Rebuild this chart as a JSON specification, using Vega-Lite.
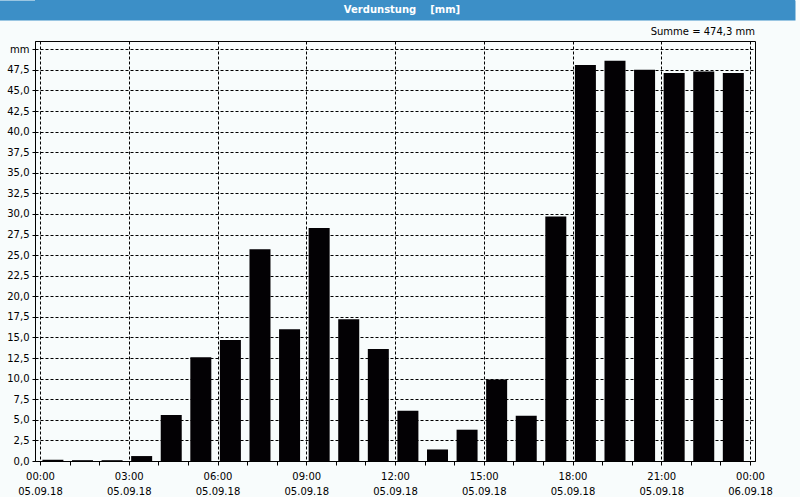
{
  "$schema": "https://vega.github.io/schema/vega-lite/v6.json",
  "padding": 0,
  "background": "#f8fcfc",
  "spacing": 6,
  "bounds": "full",
  "config": {"font": "DejaVu Sans", "view": {"stroke": "#000000"}},
  "vconcat": [
    {
      "width": 760,
      "height": 20,
      "view": {"fill": "#3c8fc7", "stroke": null},
      "data": {"values": [{"label": "Verdunstung\u00a0\u00a0\u00a0\u00a0[mm]"}]},
      "mark": {"type": "text", "color": "#ffffff", "fontWeight": "bold", "fontSize": 10, "dx": 7},
      "encoding": {
        "text": {"field": "label", "type": "nominal"},
        "x": {
          "datum": 0.5,
          "type": "quantitative",
          "scale": {"domain": [0, 1], "range": [-40, 760], "nice": false, "zero": false},
          "axis": {
            "orient": "top",
            "offset": -10,
            "title": null,
            "labels": false,
            "ticks": false,
            "grid": false,
            "domainColor": "#3c8fc7",
            "domainWidth": 20,
            "domainCap": "butt"
          }
        }
      }
    },
    {
      "width": 720,
      "height": 420,
      "title": {"text": "Summe = 474,3 mm", "anchor": "end", "frame": "group", "fontSize": 10, "fontWeight": "normal", "offset": 4, "color": "#000000", "font": "DejaVu Sans"},
      "view": {"fill": "#f8fcfc", "stroke": "#000000", "strokeWidth": 1},
      "data": {"values": [
        {"zeit": "2018-09-05T00:00:00", "mm": 0.15},
        {"zeit": "2018-09-05T01:00:00", "mm": 0.1},
        {"zeit": "2018-09-05T02:00:00", "mm": 0.1},
        {"zeit": "2018-09-05T03:00:00", "mm": 0.6},
        {"zeit": "2018-09-05T04:00:00", "mm": 5.6},
        {"zeit": "2018-09-05T05:00:00", "mm": 12.6},
        {"zeit": "2018-09-05T06:00:00", "mm": 14.7},
        {"zeit": "2018-09-05T07:00:00", "mm": 25.7},
        {"zeit": "2018-09-05T08:00:00", "mm": 16.0},
        {"zeit": "2018-09-05T09:00:00", "mm": 28.3},
        {"zeit": "2018-09-05T10:00:00", "mm": 17.2},
        {"zeit": "2018-09-05T11:00:00", "mm": 13.6},
        {"zeit": "2018-09-05T12:00:00", "mm": 6.1},
        {"zeit": "2018-09-05T13:00:00", "mm": 1.4},
        {"zeit": "2018-09-05T14:00:00", "mm": 3.8},
        {"zeit": "2018-09-05T15:00:00", "mm": 9.9},
        {"zeit": "2018-09-05T16:00:00", "mm": 5.5},
        {"zeit": "2018-09-05T17:00:00", "mm": 29.7},
        {"zeit": "2018-09-05T18:00:00", "mm": 48.1},
        {"zeit": "2018-09-05T19:00:00", "mm": 48.6},
        {"zeit": "2018-09-05T20:00:00", "mm": 47.5},
        {"zeit": "2018-09-05T21:00:00", "mm": 47.1},
        {"zeit": "2018-09-05T22:00:00", "mm": 47.3},
        {"zeit": "2018-09-05T23:00:00", "mm": 47.1}
      ]},
      "mark": {"type": "bar", "color": "#030104", "width": 21, "xOffset": 12.9},
      "encoding": {
        "x": {
          "field": "zeit",
          "type": "temporal",
          "scale": {"domain": [
            {"year": 2018, "month": 9, "date": 5, "hours": 0},
            {"year": 2018, "month": 9, "date": 6, "hours": 0}
          ], "nice": false},
          "axis": {
            "title": null,
            "format": "%H:%M",
            "labelExpr": "hours(datum.value) % 3 == 0 ? [timeFormat(datum.value, '%H:%M'), timeFormat(datum.value, '%d.%m.%y')] : ''",
            "grid": true,
            "gridColor": "#000000",
            "gridDash": [3, 2],
            "gridOpacity": {"condition": {"test": "hours(datum.value) % 3 == 0", "value": 1}, "value": 0},
            "tickColor": "#000000",
            "tickSize": 4,
            "domainColor": "#000000",
            "labelFontSize": 10,
            "labelColor": "#000000",
            "labelLineHeight": 15,
            "labelPadding": 6,
            "labelOverlap": false,
            "labelFlush": false
          }
        },
        "y": {
          "field": "mm",
          "type": "quantitative",
          "scale": {"domain": [0, 51], "nice": false},
          "axis": {
            "title": null,
            "values": [0, 2.5, 5, 7.5, 10, 12.5, 15, 17.5, 20, 22.5, 25, 27.5, 30, 32.5, 35, 37.5, 40, 42.5, 45, 47.5, 50],
            "labelExpr": "datum.value >= 50 ? 'mm' : replace(format(datum.value, '.1f'), '.', ',')",
            "grid": true,
            "gridColor": "#000000",
            "gridDash": [3, 2],
            "tickSize": 3,
            "tickColor": "#000000",
            "domainColor": "#000000",
            "labelFontSize": 10,
            "labelColor": "#000000",
            "labelPadding": 3,
            "minExtent": 34
          }
        }
      }
    }
  ]
}
